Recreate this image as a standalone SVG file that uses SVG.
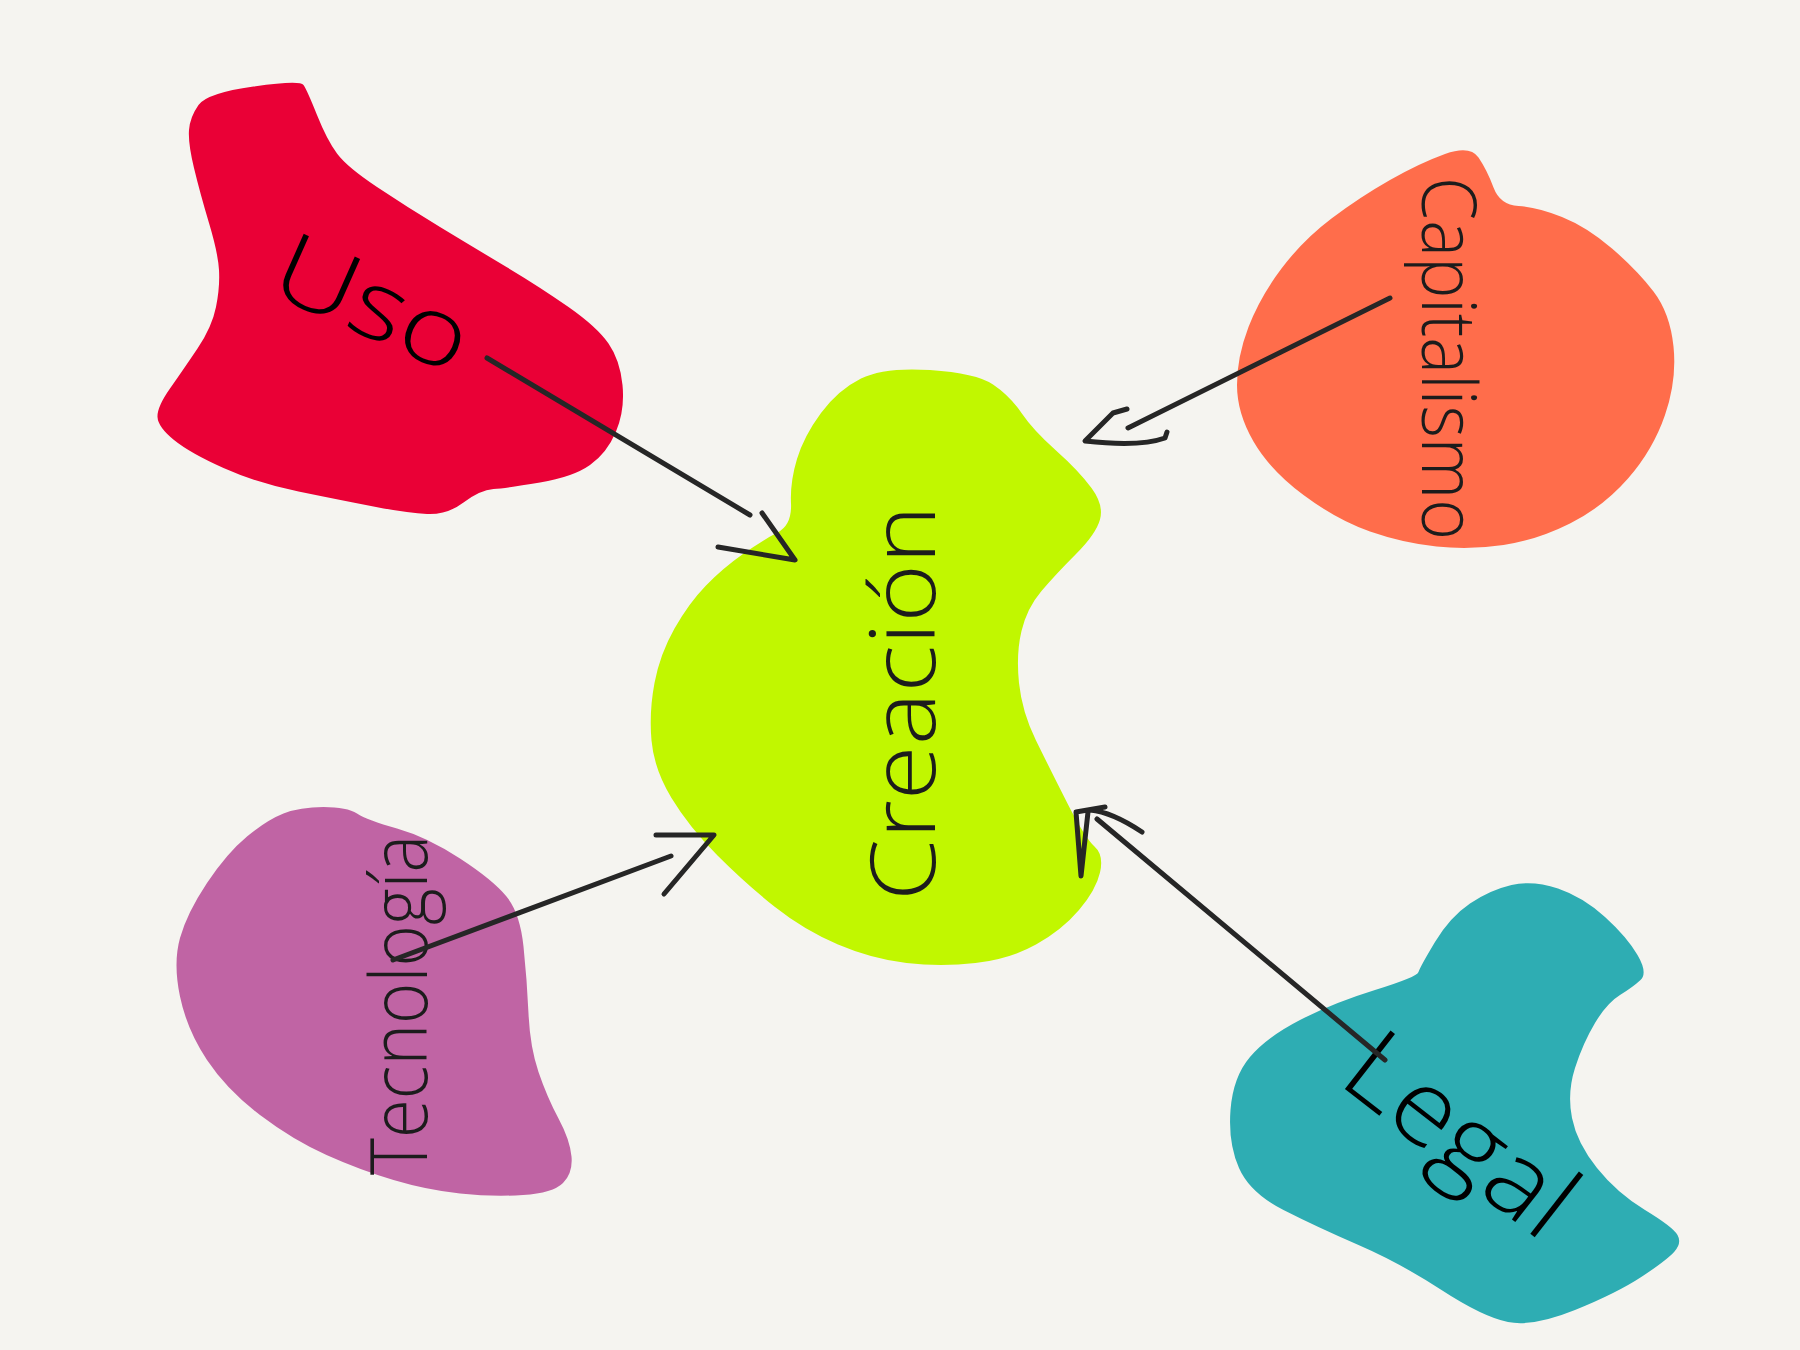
<svg xmlns="http://www.w3.org/2000/svg" width="1800" height="1350" viewBox="0 0 1800 1350">
<style>
.lbl{font-family:"Open Sans",Lato,"Liberation Sans",sans-serif;font-weight:300;fill:#1c1c1c}
.con{fill:none;stroke:#262626;stroke-width:5;stroke-linecap:round;stroke-linejoin:round}
</style>
<rect width="1800" height="1350" fill="#F5F4F0"/>
<g id="node-uso">
<path fill="#EA0036" d="M 253.5 86.5 Q 207 93 198.5 105 Q 190 117 189 130 Q 188 143 194 168 Q 200 193 209 223 Q 218 253 219 270 Q 220 287 216 307 Q 212 327 197.5 348.5 Q 183 370 170 388.5 Q 157 407 157.5 417 Q 158 427 174 440 Q 190 453 223.5 468 Q 257 483 298.5 491.5 Q 340 500 373.5 506.5 Q 407 513 427 514 Q 447 515 463.5 502.5 Q 480 490 493.5 489 Q 507 488 540 482.5 Q 573 477 590 465 Q 607 453 616 431.5 Q 625 410 622.5 385 Q 620 360 608.5 343.5 Q 597 327 568.5 307 Q 540 287 506.5 267 Q 473 247 440 227 Q 407 207 377 187 Q 347 167 337 153.5 Q 327 140 317 115 Q 307 90 303.5 85 Q 300 80 253.5 86.5 Z"/>
<text class="lbl" style="fill:#000" font-size="96" transform="translate(266,292) rotate(24)" textLength="205" lengthAdjust="spacingAndGlyphs">Uso</text>
</g>
<g id="node-capitalismo">
<path fill="#FF6D4B" d="M 1445 154 Q 1420 163 1390 180 Q 1360 197 1331.5 218.5 Q 1303 240 1281.5 268.5 Q 1260 297 1248.5 327 Q 1237 357 1237 385 Q 1237 413 1253.5 441.5 Q 1270 470 1303.5 495 Q 1337 520 1370 531.5 Q 1403 543 1436.5 546.5 Q 1470 550 1503.5 545 Q 1537 540 1570 523.5 Q 1603 507 1628 478.5 Q 1653 450 1665 415 Q 1677 380 1673.5 346.5 Q 1670 313 1653.5 291.5 Q 1637 270 1612 248.5 Q 1587 227 1562 217 Q 1537 207 1518.5 206 Q 1500 205 1493.5 187.5 Q 1487 170 1478.5 157.5 Q 1470 145 1445 154 Z"/>
<text class="lbl" font-size="76" transform="translate(1422,177) rotate(90)" textLength="363" lengthAdjust="spacingAndGlyphs">Capitalismo</text>
</g>
<g id="node-creacion">
<path fill="#C1F700" d="M 930 370 Q 976 373 993 384.5 Q 1010 396 1021.5 413 Q 1033 430 1056 450.5 Q 1079 471 1091.5 488 Q 1104 505 1100 519.5 Q 1096 534 1076 554 Q 1056 574 1041.5 591 Q 1027 608 1021.5 631 Q 1016 654 1019 683 Q 1022 712 1036 740.5 Q 1050 769 1067.5 803.5 Q 1085 838 1094.5 846.5 Q 1104 855 1100 872.5 Q 1096 890 1079 910 Q 1062 930 1036 944.5 Q 1010 959 975.5 963 Q 941 967 906.5 963 Q 872 959 838 944.5 Q 804 930 775 907 Q 746 884 717.5 855.5 Q 689 827 671.5 798 Q 654 769 651.5 740.5 Q 649 712 654.5 683 Q 660 654 674.5 628.5 Q 689 603 706 585.5 Q 723 568 743 554 Q 763 540 777.5 532.5 Q 792 525 791 503.5 Q 790 482 797 459 Q 804 436 821 413 Q 838 390 861 378.5 Q 884 367 930 370 Z"/>
<text class="lbl" font-size="90" transform="translate(935,901) rotate(-90)" textLength="396" lengthAdjust="spacingAndGlyphs">Creación</text>
</g>
<g id="node-tecnologia">
<path fill="#C064A4" d="M 323.5 807 Q 347 807 357 813.5 Q 367 820 397 828.5 Q 427 837 460 858.5 Q 493 880 506.5 896.5 Q 520 913 523.5 946.5 Q 527 980 528.5 1013.5 Q 530 1047 538.5 1072 Q 547 1097 558.5 1118.5 Q 570 1140 571.5 1156.5 Q 573 1173 563 1183 Q 553 1193 523 1195 Q 493 1197 460 1193.5 Q 427 1190 393.5 1180 Q 360 1170 326.5 1155 Q 293 1140 260 1115 Q 227 1090 207 1060 Q 187 1030 180 996.5 Q 173 963 180 938 Q 187 913 207 883 Q 227 853 247 836.5 Q 267 820 283.5 813.5 Q 300 807 323.5 807 Z"/>
<text class="lbl" font-size="80" transform="translate(427,1175) rotate(-90)" textLength="340" lengthAdjust="spacingAndGlyphs">Tecnología</text>
</g>
<g id="node-legal">
<path fill="#2EADB3" d="M 1558 888.5 Q 1583 897 1605 917 Q 1627 937 1637.5 955 Q 1648 973 1640.5 980 Q 1633 987 1620 995 Q 1607 1003 1595 1023 Q 1583 1043 1575 1068 Q 1567 1093 1572 1118 Q 1577 1143 1597 1168 Q 1617 1193 1645 1210 Q 1673 1227 1677.5 1235 Q 1682 1243 1674.5 1251.5 Q 1667 1260 1642 1276.5 Q 1617 1293 1575 1310 Q 1533 1327 1508 1322 Q 1483 1317 1441.5 1290 Q 1400 1263 1358.5 1245 Q 1317 1227 1283.5 1210 Q 1250 1193 1239 1168 Q 1228 1143 1230.5 1110 Q 1233 1077 1250 1057 Q 1267 1037 1300 1020 Q 1333 1003 1375 990 Q 1417 977 1418.5 972 Q 1420 967 1435 942 Q 1450 917 1470 903.5 Q 1490 890 1511.5 885 Q 1533 880 1558 888.5 Z"/>
<text class="lbl" style="fill:#000" font-size="104" transform="translate(1336,1082) rotate(38)" textLength="262" lengthAdjust="spacingAndGlyphs">Legal</text>
</g>
<g id="connectors">
<path class="con" d="M487 358 L750 515"/>
<path class="con" d="M762 513 L795 560 L718 547"/>
<path class="con" d="M1390 298 L1128 428"/>
<path class="con" d="M1127 409 L1113 413 L1085 441 Q1140 447 1165 438 L1167 432"/>
<path class="con" d="M393 960 L671 856"/>
<path class="con" d="M656 835 L714 835 L664 894"/>
<path class="con" d="M1385 1060 L1097 819"/>
<path class="con" d="M1142 832 Q1112 812 1090 810 M1105 807 L1076 812 L1081 876 L1088 812"/>
</g>
</svg>
